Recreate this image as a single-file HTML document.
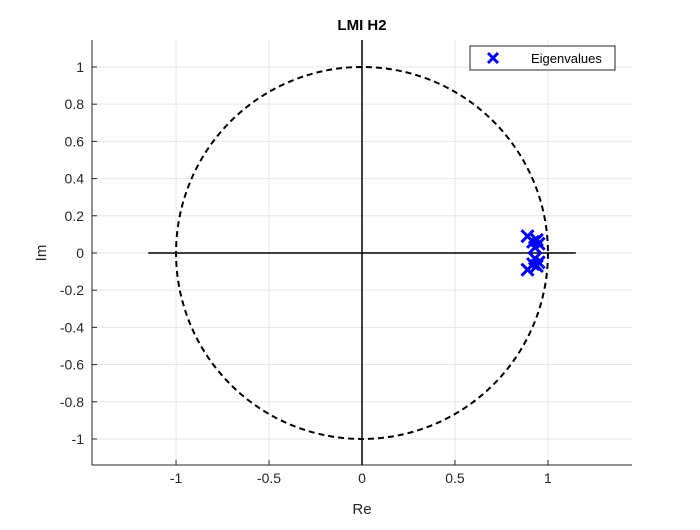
<!DOCTYPE html>
<html><head><meta charset="utf-8"><style>
body{margin:0;background:#fff;}
svg text{font-family:"Liberation Sans",Arial,sans-serif;}
</style></head><body>
<svg id="chart" width="700" height="525" xmlns="http://www.w3.org/2000/svg"></svg>
<script>
const eigRe = [0.89, 0.92, 0.95, 0.93, 0.94, 0.89, 0.92, 0.95, 0.93, 0.94];
const eigIm = [0.09, 0.06, 0.05, 0.03, 0.07, -0.09, -0.06, -0.05, -0.03, -0.07];
const xTicks = [-1, -0.5, 0, 0.5, 1];
const yTicks = [1, 0.8, 0.6, 0.4, 0.2, 0, -0.2, -0.4, -0.6, -0.8, -1];
const xMin=-1.452, xMax=1.452, yMin=-1.14, yMax=1.145;
const L=92,R=632,T=40,B=465;
const sx=v=>L+(v-xMin)/(xMax-xMin)*(R-L);
const sy=v=>B-(v-yMin)/(yMax-yMin)*(B-T);
const svg=document.getElementById('chart');
const NS='http://www.w3.org/2000/svg';
function mk(tag,attrs,parent){const e=document.createElementNS(NS,tag);for(const k in attrs)e.setAttribute(k,attrs[k]);(parent||svg).appendChild(e);return e;}
const rect=mk('rect',{x:L,y:T,width:R-L,height:B-T,fill:'#fff',stroke:'none'});


xTicks.forEach(t=>{
  const g=mk('line',{x1:sx(t),x2:sx(t),y1:T,y2:B,stroke:'#e6e6e6','stroke-width':1});
  
  
  const tx=mk('text',{x:sx(t),y:B+18,'text-anchor':'middle','font-size':14,fill:'#262626'});
  tx.textContent=String(t);
  
  
  mk('line',{x1:sx(t),x2:sx(t),y1:B,y2:B-5,stroke:'#262626'});
});
yTicks.forEach(t=>{
  const g=mk('line',{x1:L,x2:R,y1:sy(t),y2:sy(t),stroke:'#e6e6e6','stroke-width':1});
  
  
  const tx=mk('text',{x:L-8,y:sy(t)+5,'text-anchor':'end','font-size':14,fill:'#262626'});
  tx.textContent=String(t);
  
  
  mk('line',{x1:L,x2:L+5,y1:sy(t),y2:sy(t),stroke:'#262626'});
});
const ax=mk('path',{d:`M${L},${T}V${B}H${R}`,fill:'none',stroke:'#262626','stroke-width':1});


const hx=mk('line',{x1:sx(-1.15),x2:sx(1.15),y1:sy(0),y2:sy(0),stroke:'#000','stroke-width':1.5});


const vy=mk('line',{x1:sx(0),x2:sx(0),y1:T,y2:B,stroke:'#000','stroke-width':1.5});


const circ=mk('ellipse',{cx:sx(0),cy:sy(0),rx:sx(1)-sx(0),ry:sy(0)-sy(1),fill:'none',stroke:'#000','stroke-width':2,'stroke-dasharray':'6 4'});


eigRe.forEach((r,i)=>{
  const x=sx(r),y=sy(eigIm[i]),d=6;
  const p=mk('path',{d:`M${x-d},${y-d}L${x+d},${y+d}M${x-d},${y+d}L${x+d},${y-d}`,stroke:'#0000ff','stroke-width':3});
  
  
});
const title=mk('text',{x:362,y:30,'text-anchor':'middle','font-size':15,'font-weight':'bold',fill:'#000'});
title.textContent='LMI H2';


const xl=mk('text',{x:362,y:514,'text-anchor':'middle','font-size':15,fill:'#262626'});
xl.textContent='Re';


const yl=mk('text',{x:46,y:253,'text-anchor':'middle','font-size':15,fill:'#262626',transform:'rotate(-90 46 253)'});
yl.textContent='Im';


const lg=mk('g',{});


mk('rect',{x:470,y:46,width:145,height:24,fill:'#fff',stroke:'#262626','stroke-width':1},lg);
mk('path',{d:'M488,53L498,63M488,63L498,53',stroke:'#0000ff','stroke-width':3},lg);
const lt=mk('text',{x:531,y:63,'font-size':13,fill:'#000'},lg);
lt.textContent='Eigenvalues';


</script>
</body></html>
